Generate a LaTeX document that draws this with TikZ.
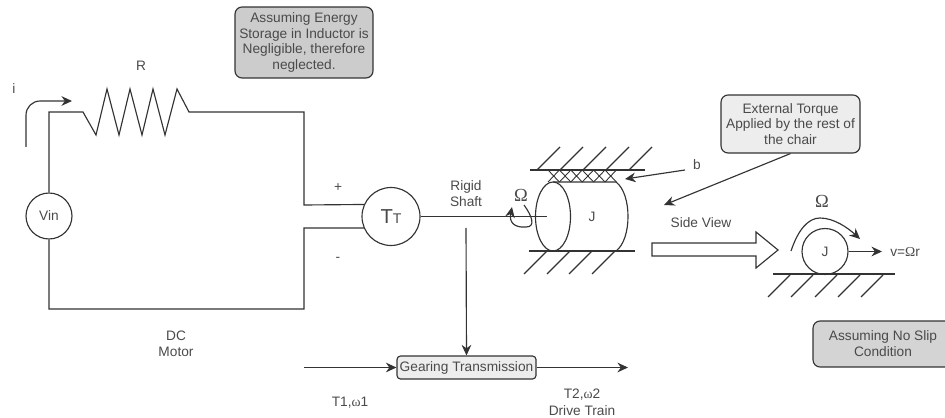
\documentclass[tikz,border=0pt]{standalone}
\usepackage{fontspec}
\setmainfont{Liberation Sans}
\newfontfamily\symfont{Liberation Serif}
\usetikzlibrary{arrows.meta}
\definecolor{inkc}{HTML}{333333}
\definecolor{textc}{HTML}{4A4A4A}
\tikzset{
  wire/.style={draw=inkc,line width=0.65pt},
  arrow/.style={wire,-{Stealth[length=6pt,width=5.5pt]}},
  label/.style={text=textc,font=\fontsize{7.8}{9}\selectfont,align=center,inner sep=0pt},
  greek/.style={text=textc,font=\symfont\fontsize{10.5}{12}\selectfont,inner sep=0pt},
  machine/.style={wire,circle,inner sep=0pt,text=textc,font=\fontsize{7.8}{9}\selectfont},
  callout/.style={wire,rounded corners=4pt,text=textc,font=\fontsize{7.8}{9}\selectfont,align=center,inner sep=0pt},
}
\begin{document}
\begin{tikzpicture}[x=0.02cm,y=-0.02cm]
    \useasboundingbox (0,0) rectangle (945,418);
    \node[machine,minimum size=0.92cm] (vin) at (49,216) {Vin};
    \node[machine,minimum size=1.16cm] (motor) at (391,216.5) {\fontsize{11.5}{12}\selectfont T\fontsize{8}{9}\selectfont T};
    \node[machine,minimum size=0.92cm] (wheel) at (825,251.5) {J};
    \node[callout,fill=black!20,minimum width=2.76cm,minimum height=1.42cm] (inductor) at (304,42.5) {Assuming Energy\\Storage in Inductor is\\Negligible, therefore\\neglected.};
    \node[callout,fill=black!7,minimum width=2.78cm,minimum height=1.16cm] (torque) at (790.5,124) {External Torque\\Applied by the rest of\\the chair};
    \node[callout,fill=black!17,minimum width=2.8cm,minimum height=0.92cm] (noslip) at (883,344) {Assuming No Slip\\Condition};
    \node[callout,fill=black!7,rounded corners=2pt,minimum width=2.78cm,minimum height=0.46cm,font=\fontsize{7.8}{9}\selectfont] (gear) at (466.5,367.5) {Gearing Transmission};
    \node[label] (rlabel) at (141,66) {R};
    \node[label] (ilabel) at (14,89) {i};
    \node[label] (plus) at (338,188) {+};
    \node[label] (minus) at (338,259) {-};
    \node[label] (shaft) at (466,194) {Rigid\\Shaft};
    \node[label] (dcmotor) at (176,344) {DC\\Motor};
    \node[label] (blabel) at (697,165) {b};
    \node[label] (sideview) at (701,223) {Side View};
    \node[label,anchor=west] (velocity) at (890,252) {v={\symfont Ω}r};
    \node[label] (inertia) at (592,217) {J};
    \node[label] (t1) at (350,403) {T1,{\symfont ω}1};
    \node[label] (t2) at (582,395) {T2,{\symfont ω}2};
    \node[label] (drivetrain) at (582,411) {Drive Train};
    \node[greek] (omegaa) at (521,195) {Ω};
    \node[greek] (omegab) at (822,201) {Ω};

    \coordinate (resl) at (83,112);
    \coordinate (resr) at (189,112);
    \coordinate (corner) at (304,112);
    \coordinate (plusa) at (304,205);
    \coordinate (minusa) at (304,228);
    \coordinate (bottomr) at (304,309);
    \draw[wire] (vin.north) |- (resl) -- (96,135) -- (107,89) -- (119,135) -- (130,89) -- (142,135) -- (153,89) -- (165,135) -- (177,89) -- (resr) -- (corner) -- (plusa) -- (motor.156.7);
    \draw[wire] (motor.203.3) -- (minusa) -- (bottomr) -| (vin.south);
    \coordinate (ibegin) at (26,147);
    \coordinate (iend) at (72,101);
    \draw[arrow,rounded corners=8pt] (ibegin) |- (iend);

    \coordinate (shaftend) at (547,216.5);
    \coordinate (shaftdrop) at (466,228);
    \draw[wire] (motor.east) -- (shaftend);
    \draw[arrow] (shaftdrop) -- (gear.north);
    \coordinate (t1begin) at (304,367.5);
    \coordinate (t2end) at (628,367.5);
    \draw[arrow] (t1begin) -- (gear.west);
    \draw[arrow] (gear.east) -- (t2end);
    \coordinate (loopstart) at (524,205);
    \coordinate (looptip) at (512,207);
    \draw[arrow] (loopstart) .. controls (532,216) and (536,227) .. (526,227) .. controls (514,228) and (509,222) .. (looptip);

    \coordinate (cyltop) at (553,182);
    \coordinate (cylbot) at (553,251);
    \coordinate (cylrtop) at (616,182);
    \coordinate (cylrbot) at (616,251);
    \draw[wire] (553,216.5) ellipse (17.5 and 34.5);
    \draw[wire] (cyltop) -- (cylrtop) .. controls (624,188) and (628,202) .. (628,216.5) .. controls (628,231) and (624,245) .. (cylrbot) -- (cylbot);
    \coordinate (walltopl) at (530,170);
    \coordinate (walltopr) at (645,170);
    \coordinate (wallbotl) at (529,251);
    \coordinate (wallbotr) at (635,251);
    \draw[wire] (walltopl) -- (walltopr);
    \draw[wire] (wallbotl) -- (wallbotr);
    \foreach \x in {537,560,583,606,629}
        \draw[wire] (\x,170) -- ++(23,-23);
    \foreach \x in {547,570,592,615}
        \draw[wire] (\x,251) -- ++(-23,23);
    \foreach \x in {548,559.4,570.8,582.2,593.6,605}
        \draw[wire,line width=0.5pt] (\x,182) -- ++(11.4,-12) (\x,170) -- ++(11.4,12);

    \coordinate (damperb) at (685,170);
    \coordinate (damper) at (625,179);
    \draw[arrow] (damperb) -- (damper);
    \coordinate (torquetip) at (664,205);
    \draw[arrow] (torque.south) -- (torquetip);
    \draw[wire,fill=white] (652,243) -- (756,243) -- (756,232) -- (778,250) -- (756,268) -- (756,256) -- (652,256) -- cycle;

    \coordinate (groundl) at (773,274);
    \coordinate (groundr) at (895,274);
    \draw[wire] (groundl) -- (groundr);
    \foreach \x in {790,813,837,860,883}
        \draw[wire] (\x,275) -- ++(-22,22);
    \coordinate (veltip) at (882,251.5);
    \draw[arrow] (wheel.east) -- (veltip);
    \coordinate (spinstart) at (791,251);
    \coordinate (spinend) at (860,239);
    \draw[arrow] (spinstart) .. controls (798,230) and (808,218) .. (820,218) .. controls (834,218) and (848,228) .. (spinend);
  \end{tikzpicture}
\end{document}
